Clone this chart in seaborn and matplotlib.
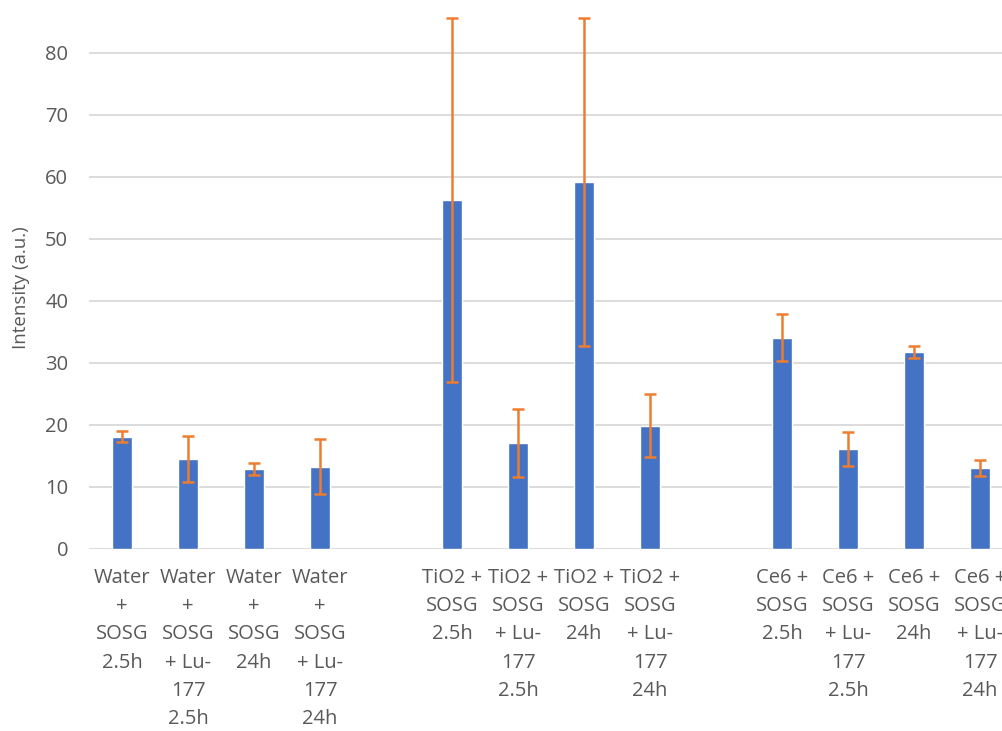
import numpy as np
import pandas as pd
import matplotlib
matplotlib.use('Agg')
import matplotlib.pyplot as plt
import seaborn as sns

# category keys (gaps between groups are empty slots on the axis)
keys = ['w1', 'w2', 'w3', 'w4', 'gap1',
        't1', 't2', 't3', 't4', 'gap2',
        'c1', 'c2', 'c3', 'c4']
labels = ['Water\n+\nSOSG\n2.5h', 'Water\n+\nSOSG\n+ Lu-\n177\n2.5h',
          'Water\n+\nSOSG\n24h', 'Water\n+\nSOSG\n+ Lu-\n177\n24h', '',
          'TiO2 +\nSOSG\n2.5h', 'TiO2 +\nSOSG\n+ Lu-\n177\n2.5h',
          'TiO2 +\nSOSG\n24h', 'TiO2 +\nSOSG\n+ Lu-\n177\n24h', '',
          'Ce6 +\nSOSG\n2.5h', 'Ce6 +\nSOSG\n+ Lu-\n177\n2.5h',
          'Ce6 +\nSOSG\n24h', 'Ce6 +\nSOSG\n+ Lu-\n177\n24h']
bar_keys = ['w1', 'w2', 'w3', 'w4', 't1', 't2', 't3', 't4', 'c1', 'c2', 'c3', 'c4']
intensity = [18.0, 14.5, 12.8, 13.2, 56.2, 17.0, 59.1, 19.8, 34.0, 16.1, 31.7, 13.0]
err = [0.9, 3.7, 0.95, 4.4, 29.4, 5.5, 26.5, 5.1, 3.8, 2.75, 0.9, 1.35]

df = pd.DataFrame({'key': bar_keys, 'val': intensity, 'err': err})

sns.set_style('white')
plt.rcParams['font.family'] = ['Open Sans', 'DejaVu Sans']

fig = plt.figure(figsize=(10.03, 7.31), dpi=100)
# plot area runs past the right and top edges (cropped like the source)
ax = fig.add_axes([89 / 1003, 182.5 / 731, 924 / 1003, 558 / 731])

sns.barplot(data=df, x='key', y='val', order=keys, color='#4472C4',
            width=0.31, saturation=1, ax=ax, errorbar=None)

pos = [keys.index(k) for k in bar_keys]
ax.errorbar(pos, intensity, yerr=err, fmt='none', ecolor='#ED7D31',
            elinewidth=1.8, capsize=4.5, capthick=1.8, zorder=5)

ax.set_xlim(-0.5, len(keys) - 0.5)
ax.set_ylim(0, 90)
ax.set_yticks(np.arange(0, 90, 10))
ax.yaxis.grid(True, color='#d9d9d9', linewidth=1.3)
ax.set_axisbelow(True)
for s in ax.spines.values():
    s.set_visible(False)

ax.set_xticks(range(len(keys)))
ax.set_xticklabels(labels, fontsize=14.5, color='#595959', linespacing=1.55)
ax.tick_params(axis='x', length=0, pad=14)
ax.tick_params(axis='y', length=0, pad=15, labelsize=14.5, labelcolor='#595959')
ax.set_xlabel('')
ax.set_ylabel('')
fig.text(21 / 1003, 1 - 288 / 731, 'Intensity (a.u.)', rotation=90,
         ha='center', va='center', fontsize=13.5, color='#595959')

fig.savefig('out.png', dpi=100)
